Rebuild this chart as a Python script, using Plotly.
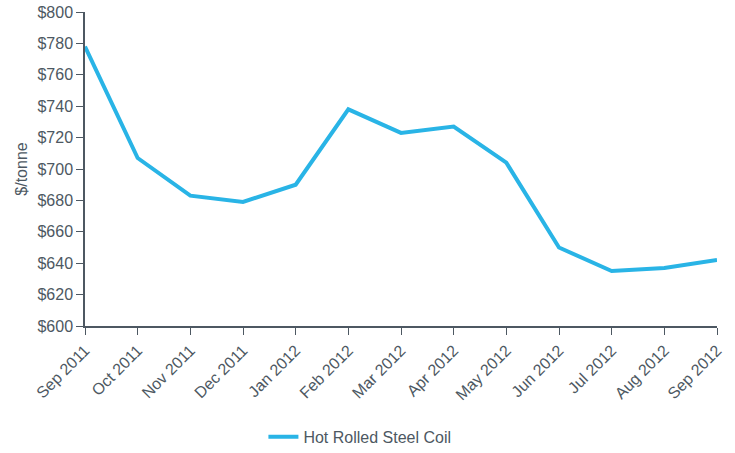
import plotly.graph_objects as go

months = ["Sep 2011", "Oct 2011", "Nov 2011", "Dec 2011", "Jan 2012", "Feb 2012",
          "Mar 2012", "Apr 2012", "May 2012", "Jun 2012", "Jul 2012", "Aug 2012", "Sep 2012"]
prices = [778, 707, 683, 679, 690, 738, 723, 727, 704, 650, 635, 637, 642]
y_ticks = [600, 620, 640, 660, 680, 700, 720, 740, 760, 780, 800]
y_labels = ["$" + str(v) for v in y_ticks]

text_color = "#4d5862"
axis_color = "#4d5862"

fig = go.Figure()
fig.add_trace(go.Scatter(
    x=months, y=prices, mode="lines", name="Hot Rolled Steel Coil",
    line=dict(color="#29b4e6", width=4),
))

fig.update_layout(
    width=735, height=453,
    margin=dict(l=85, r=18, t=12, b=127, autoexpand=False),
    plot_bgcolor="white", paper_bgcolor="white",
    font=dict(family="Liberation Sans, Arial, sans-serif", size=16, color=text_color),
    showlegend=True,
    legend=dict(orientation="h", x=0.435, xanchor="center", y=-0.353, yanchor="middle",
                font=dict(size=16, color=text_color)),
    xaxis=dict(
        type="category", range=[0, 12], tickangle=-45, automargin=False,
        showline=True, linecolor=axis_color, linewidth=1.5,
        ticks="outside", ticklen=7, tickcolor=axis_color, tickwidth=1,
        showgrid=False, zeroline=False,
        tickfont=dict(size=16, color=text_color),
    ),
    yaxis=dict(
        range=[600, 800], tickvals=y_ticks, ticktext=y_labels, automargin=False,
        showline=True, linecolor=axis_color, linewidth=1.5,
        ticks="outside", ticklen=7, tickcolor=axis_color, tickwidth=1,
        showgrid=False, zeroline=False,
        tickfont=dict(size=16, color=text_color),
        title=dict(text="$/tonne", font=dict(size=16, color=text_color), standoff=6),
    ),
)

fig.write_html("out.html")
